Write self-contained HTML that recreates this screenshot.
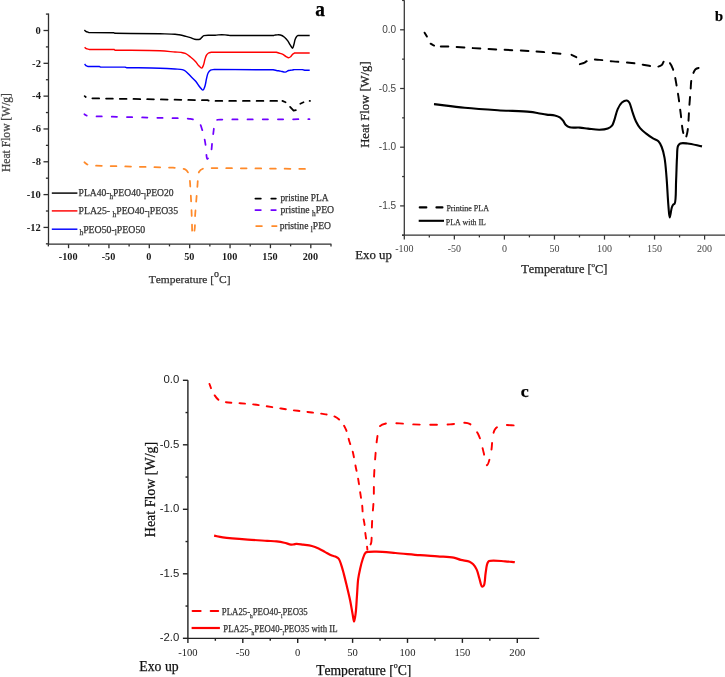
<!DOCTYPE html>
<html><head><meta charset="utf-8"><style>
html,body{margin:0;padding:0;background:#fff;width:725px;height:677px;overflow:hidden}
svg{display:block;will-change:transform}
text{font-kerning:none}
.c{fill:none;stroke-width:1.45;stroke-linejoin:round}
.cb{fill:none;stroke-width:2.1;stroke-linejoin:round}
.cc{fill:none;stroke-width:2.2;stroke-linejoin:round}
.cad{fill:none;stroke-width:1.75;stroke-linejoin:round}
.ccd{fill:none;stroke-width:1.9;stroke-linejoin:round}
.cbd{fill:none;stroke-width:1.95;stroke-linejoin:round}
</style></head><body>
<svg width="725" height="677" viewBox="0 0 725 677">
<path d="M48.5,13.5 V244.2 H331.4" fill="none" stroke="#2e2e2e" stroke-width="1.3"/>
<line x1="45.9" y1="14.09" x2="48.5" y2="14.09" stroke="#2e2e2e" stroke-width="1.3"/>
<line x1="43.5" y1="30.50" x2="48.5" y2="30.50" stroke="#2e2e2e" stroke-width="1.3"/>
<text transform="translate(40.90,33.80) scale(0.96,1)" text-anchor="end" font-family='"Liberation Serif",serif' font-size="11" font-weight="bold" fill="#1a1a1a">0</text>
<line x1="45.9" y1="46.91" x2="48.5" y2="46.91" stroke="#2e2e2e" stroke-width="1.3"/>
<line x1="43.5" y1="63.32" x2="48.5" y2="63.32" stroke="#2e2e2e" stroke-width="1.3"/>
<text transform="translate(40.90,66.62) scale(0.96,1)" text-anchor="end" font-family='"Liberation Serif",serif' font-size="11" font-weight="bold" fill="#1a1a1a">-2</text>
<line x1="45.9" y1="79.73" x2="48.5" y2="79.73" stroke="#2e2e2e" stroke-width="1.3"/>
<line x1="43.5" y1="96.14" x2="48.5" y2="96.14" stroke="#2e2e2e" stroke-width="1.3"/>
<text transform="translate(40.90,99.44) scale(0.96,1)" text-anchor="end" font-family='"Liberation Serif",serif' font-size="11" font-weight="bold" fill="#1a1a1a">-4</text>
<line x1="45.9" y1="112.55" x2="48.5" y2="112.55" stroke="#2e2e2e" stroke-width="1.3"/>
<line x1="43.5" y1="128.96" x2="48.5" y2="128.96" stroke="#2e2e2e" stroke-width="1.3"/>
<text transform="translate(40.90,132.26) scale(0.96,1)" text-anchor="end" font-family='"Liberation Serif",serif' font-size="11" font-weight="bold" fill="#1a1a1a">-6</text>
<line x1="45.9" y1="145.37" x2="48.5" y2="145.37" stroke="#2e2e2e" stroke-width="1.3"/>
<line x1="43.5" y1="161.78" x2="48.5" y2="161.78" stroke="#2e2e2e" stroke-width="1.3"/>
<text transform="translate(40.90,165.08) scale(0.96,1)" text-anchor="end" font-family='"Liberation Serif",serif' font-size="11" font-weight="bold" fill="#1a1a1a">-8</text>
<line x1="45.9" y1="178.19" x2="48.5" y2="178.19" stroke="#2e2e2e" stroke-width="1.3"/>
<line x1="43.5" y1="194.60" x2="48.5" y2="194.60" stroke="#2e2e2e" stroke-width="1.3"/>
<text transform="translate(40.90,197.90) scale(0.96,1)" text-anchor="end" font-family='"Liberation Serif",serif' font-size="11" font-weight="bold" fill="#1a1a1a">-10</text>
<line x1="45.9" y1="211.01" x2="48.5" y2="211.01" stroke="#2e2e2e" stroke-width="1.3"/>
<line x1="43.5" y1="227.42" x2="48.5" y2="227.42" stroke="#2e2e2e" stroke-width="1.3"/>
<text transform="translate(40.90,230.72) scale(0.96,1)" text-anchor="end" font-family='"Liberation Serif",serif' font-size="11" font-weight="bold" fill="#1a1a1a">-12</text>
<line x1="45.9" y1="243.83" x2="48.5" y2="243.83" stroke="#2e2e2e" stroke-width="1.3"/>
<line x1="48.36" y1="244.2" x2="48.36" y2="246.39999999999998" stroke="#2e2e2e" stroke-width="1.3"/>
<line x1="68.55" y1="244.2" x2="68.55" y2="248.2" stroke="#2e2e2e" stroke-width="1.3"/>
<text transform="translate(68.15,259.50) scale(0.93,1)" text-anchor="middle" font-family='"Liberation Serif",serif' font-size="11" font-weight="bold" fill="#1a1a1a">-100</text>
<line x1="88.74" y1="244.2" x2="88.74" y2="246.39999999999998" stroke="#2e2e2e" stroke-width="1.3"/>
<line x1="108.93" y1="244.2" x2="108.93" y2="248.2" stroke="#2e2e2e" stroke-width="1.3"/>
<text transform="translate(108.53,259.50) scale(0.93,1)" text-anchor="middle" font-family='"Liberation Serif",serif' font-size="11" font-weight="bold" fill="#1a1a1a">-50</text>
<line x1="129.11" y1="244.2" x2="129.11" y2="246.39999999999998" stroke="#2e2e2e" stroke-width="1.3"/>
<line x1="149.30" y1="244.2" x2="149.30" y2="248.2" stroke="#2e2e2e" stroke-width="1.3"/>
<text transform="translate(148.90,259.50) scale(0.93,1)" text-anchor="middle" font-family='"Liberation Serif",serif' font-size="11" font-weight="bold" fill="#1a1a1a">0</text>
<line x1="169.49" y1="244.2" x2="169.49" y2="246.39999999999998" stroke="#2e2e2e" stroke-width="1.3"/>
<line x1="189.68" y1="244.2" x2="189.68" y2="248.2" stroke="#2e2e2e" stroke-width="1.3"/>
<text transform="translate(189.28,259.50) scale(0.93,1)" text-anchor="middle" font-family='"Liberation Serif",serif' font-size="11" font-weight="bold" fill="#1a1a1a">50</text>
<line x1="209.86" y1="244.2" x2="209.86" y2="246.39999999999998" stroke="#2e2e2e" stroke-width="1.3"/>
<line x1="230.05" y1="244.2" x2="230.05" y2="248.2" stroke="#2e2e2e" stroke-width="1.3"/>
<text transform="translate(229.65,259.50) scale(0.93,1)" text-anchor="middle" font-family='"Liberation Serif",serif' font-size="11" font-weight="bold" fill="#1a1a1a">100</text>
<line x1="250.24" y1="244.2" x2="250.24" y2="246.39999999999998" stroke="#2e2e2e" stroke-width="1.3"/>
<line x1="270.43" y1="244.2" x2="270.43" y2="248.2" stroke="#2e2e2e" stroke-width="1.3"/>
<text transform="translate(270.03,259.50) scale(0.93,1)" text-anchor="middle" font-family='"Liberation Serif",serif' font-size="11" font-weight="bold" fill="#1a1a1a">150</text>
<line x1="290.61" y1="244.2" x2="290.61" y2="246.39999999999998" stroke="#2e2e2e" stroke-width="1.3"/>
<line x1="310.80" y1="244.2" x2="310.80" y2="248.2" stroke="#2e2e2e" stroke-width="1.3"/>
<text transform="translate(310.40,259.50) scale(0.93,1)" text-anchor="middle" font-family='"Liberation Serif",serif' font-size="11" font-weight="bold" fill="#1a1a1a">200</text>
<line x1="330.99" y1="244.2" x2="330.99" y2="246.39999999999998" stroke="#2e2e2e" stroke-width="1.3"/>
<text x="148.72" y="282.90" font-family='"Liberation Serif",serif' font-size="11" fill="#333" textLength="81.85" lengthAdjust="spacingAndGlyphs" stroke="#333" stroke-width="0.25">Temperature [<tspan dy="-5.8" font-size="9.5">o</tspan><tspan dy="5.8">C]</tspan></text>
<text transform="translate(9.60,171.99) rotate(-90)" font-family='"Liberation Serif",serif' font-size="11.5" fill="#444" textLength="78.97" lengthAdjust="spacingAndGlyphs" stroke="#444" stroke-width="0.25">Heat Flow [W/g]</text>
<text x="315.16" y="16.10" font-family='"Liberation Serif",serif' font-size="21.5" font-weight="bold" fill="#000" textLength="9.68" lengthAdjust="spacingAndGlyphs" stroke="#000" stroke-width="0.25">a</text>
<path d="M84.40,30.00 C84.87,30.43 85.20,30.91 85.80,31.30 C86.60,31.81 87.87,32.17 88.90,32.60 L114.00,32.80 L115.00,33.30 C130.00,33.47 149.02,33.59 160.00,33.80 C166.34,33.92 171.57,33.90 175.00,34.20 C176.80,34.36 177.60,34.52 179.10,34.80 C180.96,35.15 183.33,35.71 185.30,36.20 C187.11,36.65 188.88,37.07 190.50,37.60 C191.96,38.08 193.12,38.92 194.60,39.20 C196.20,39.50 198.52,39.69 199.80,39.20 C200.75,38.84 201.20,37.91 201.90,37.30 C202.57,36.71 202.87,35.99 203.90,35.60 C205.94,34.82 211.63,35.47 214.30,35.30 C215.98,35.19 216.87,34.97 218.40,34.90 C220.34,34.81 223.01,34.79 225.00,34.90 C226.65,34.99 228.00,35.23 229.50,35.40 L273.90,35.40 L275.60,34.90 C277.20,34.93 278.91,34.61 280.40,35.00 C281.87,35.39 283.28,36.24 284.50,37.20 C285.76,38.19 286.84,39.59 287.80,40.90 C288.73,42.17 289.39,43.63 290.20,44.90 C290.96,46.09 291.88,48.38 292.50,48.30 C293.11,48.23 293.48,45.86 293.90,44.50 C294.36,42.98 294.57,41.03 295.10,39.60 C295.54,38.39 296.05,37.11 296.70,36.40 C297.17,35.88 297.77,35.73 298.30,35.40 L309.70,35.40" class="c" stroke="#000"/>
<path d="M84.60,47.20 C85.17,47.67 85.61,48.24 86.30,48.60 C87.10,49.02 88.23,49.13 89.20,49.40 L114.00,49.40 L115.00,50.20 C130.00,50.40 149.03,50.29 160.00,50.80 C166.35,51.10 171.09,51.72 175.00,52.00 C177.52,52.18 179.36,52.12 181.20,52.40 C182.72,52.63 183.91,52.78 185.30,53.40 C187.00,54.16 188.81,55.66 190.50,57.00 C192.28,58.41 194.25,60.12 195.70,61.70 C196.94,63.06 197.71,64.68 198.80,65.80 C199.73,66.75 200.92,68.24 201.70,68.10 C202.43,67.97 202.91,66.46 203.40,65.30 C204.08,63.68 204.42,60.91 205.00,59.10 C205.47,57.63 205.83,56.26 206.50,55.20 C207.07,54.29 207.79,53.48 208.60,53.00 C209.37,52.55 210.33,52.53 211.20,52.30 L276.40,52.20 C277.20,52.47 277.89,52.70 278.80,53.00 C279.98,53.38 281.66,53.68 282.90,54.30 C284.08,54.89 285.07,56.01 286.10,56.60 C286.96,57.09 287.82,57.72 288.60,57.70 C289.31,57.68 289.98,57.19 290.60,56.70 C291.33,56.12 291.87,54.95 292.60,54.30 C293.25,53.71 294.00,53.37 294.70,52.90 L309.70,53.00" class="c" stroke="#ff0000"/>
<path d="M84.60,64.10 C85.07,64.60 85.46,65.22 86.00,65.60 C86.53,65.98 87.20,66.13 87.80,66.40 L99.20,66.40 L100.50,67.10 L125.00,67.10 L126.50,67.70 C137.67,67.87 151.05,67.89 160.00,68.20 C165.99,68.40 170.91,68.72 175.00,69.00 C177.84,69.19 180.33,69.12 182.20,69.60 C183.48,69.93 184.21,70.25 185.30,71.00 C186.90,72.10 188.77,74.39 190.50,76.10 C192.24,77.82 194.14,79.46 195.70,81.30 C197.23,83.10 198.47,85.43 199.80,87.00 C200.85,88.24 202.04,90.24 202.90,90.10 C203.78,89.96 204.44,87.61 205.00,86.00 C205.72,83.96 205.95,80.97 206.50,78.70 C206.99,76.67 207.28,74.49 208.10,73.00 C208.75,71.81 209.57,70.80 210.60,70.20 C211.63,69.60 213.07,69.67 214.30,69.40 L273.10,69.80 C274.20,70.03 275.24,70.29 276.40,70.50 C277.67,70.73 279.00,70.85 280.40,71.10 C281.95,71.37 283.85,72.28 285.30,72.10 C286.54,71.94 287.48,70.83 288.60,70.50 C289.65,70.19 290.80,70.26 291.80,70.10 C292.69,69.96 293.47,69.77 294.30,69.60 L302.40,69.60 L304.80,70.30 L309.70,70.30" class="c" stroke="#0000ff"/>
<path d="M84.70,96.10 C85.30,96.57 85.85,97.15 86.50,97.50 C87.12,97.84 87.83,97.97 88.50,98.20 L156.60,99.40 L207.50,100.20 L209.50,100.90 L277.60,100.90" class="cad" stroke="#000" stroke-linecap="round" stroke-dasharray="6.75 6.95" stroke-dashoffset="5.43"/>
<path d="M282.40,100.85 L285.60,102.25" class="cad" stroke="#000" stroke-linecap="round"/>
<path d="M290.09,106.85 L293.60,110.70 L295.85,110.19" class="cad" stroke="#000" stroke-linecap="round"/>
<path d="M300.30,103.74 L303.50,102.26" class="cad" stroke="#000" stroke-linecap="round"/>
<path d="M309.6,100.9 L310.0,100.9" class="cad" stroke="#000" stroke-linecap="round"/>
<path d="M84.40,114.20 C85.10,114.63 85.75,115.17 86.50,115.50 C87.25,115.83 88.10,115.97 88.90,116.20 L185.00,118.40 C186.77,118.57 188.55,118.57 190.30,118.90 C192.08,119.23 194.01,119.65 195.60,120.40 C197.09,121.11 198.55,121.88 199.60,123.20 C200.83,124.76 201.40,127.43 202.10,129.50 C202.75,131.43 203.19,133.06 203.70,135.20 C204.34,137.91 205.07,141.38 205.50,144.50 C205.93,147.61 205.93,151.25 206.30,153.90 C206.58,155.87 206.67,158.85 207.30,159.00 C207.81,159.12 208.80,157.39 209.40,156.30 C210.15,154.95 210.75,153.33 211.20,151.40 C211.80,148.82 211.87,144.87 212.20,142.10 C212.47,139.85 212.72,138.23 213.00,136.00 C213.34,133.31 213.68,129.70 214.10,127.10 C214.43,125.04 214.43,122.85 215.20,121.60 C215.76,120.70 216.52,120.17 217.50,119.80 C218.77,119.32 220.77,119.60 222.40,119.50 L309.50,119.20" class="cad" stroke="#7000ff" stroke-linecap="round" stroke-dasharray="5.25 9.95" stroke-dashoffset="2.58"/>
<path d="M84.40,162.30 C85.23,162.93 86.04,163.66 86.90,164.20 C87.71,164.71 88.57,165.07 89.40,165.50 L173.00,167.60 C175.23,167.87 177.56,168.05 179.70,168.40 C181.68,168.73 183.89,168.67 185.40,169.60 C186.81,170.47 187.87,172.00 188.60,173.60 C189.43,175.42 189.50,177.79 189.80,180.10 C190.13,182.69 190.19,185.16 190.40,188.40 C190.69,192.98 191.05,199.57 191.30,205.00 C191.54,210.23 191.66,215.35 191.90,220.40 C192.13,225.28 191.94,234.67 192.70,234.80 C193.14,234.87 194.08,232.33 194.50,230.40 C195.23,227.06 194.81,221.07 195.10,216.20 C195.40,211.02 195.90,205.47 196.30,200.20 C196.70,195.04 197.17,189.13 197.50,184.90 C197.73,181.90 197.76,179.58 198.10,177.20 C198.40,175.12 198.29,172.89 199.30,171.40 C200.29,169.95 202.18,168.89 204.00,168.30 C206.05,167.64 208.73,168.10 211.10,168.00 L305.40,168.90" class="cad" stroke="#ff8a2a" stroke-linecap="round" stroke-dasharray="5.75 8.85" stroke-dashoffset="1.98"/>
<line x1="51.8" y1="193.1" x2="77.4" y2="193.1" class="c" stroke="#000"/>
<line x1="51.8" y1="210.9" x2="77.4" y2="210.9" class="c" stroke="#ff0000"/>
<line x1="51.8" y1="229.2" x2="77.4" y2="229.2" class="c" stroke="#0000ff"/>
<text x="78.55" y="196.40" font-family='"Liberation Serif",serif' font-size="10" fill="#333" textLength="95.10" lengthAdjust="spacingAndGlyphs" stroke="#333" stroke-width="0.25">PLA40-<tspan dy="2.5" font-size="7.5">h</tspan><tspan dy="-2.5">PEO40-<tspan dy="2.5" font-size="7.5">l</tspan><tspan dy="-2.5">PEO20</tspan></tspan></text>
<text x="78.55" y="214.20" font-family='"Liberation Serif",serif' font-size="10" fill="#333" textLength="99.50" lengthAdjust="spacingAndGlyphs" stroke="#333" stroke-width="0.25">PLA25- <tspan dy="2.5" font-size="7.5">h</tspan><tspan dy="-2.5">PEO40-<tspan dy="2.5" font-size="7.5">l</tspan><tspan dy="-2.5">PEO35</tspan></tspan></text>
<text x="79.45" y="232.50" font-family='"Liberation Serif",serif' font-size="10" fill="#333" textLength="65.80" lengthAdjust="spacingAndGlyphs" stroke="#333" stroke-width="0.25"><tspan dy="2.5" font-size="7.5">h</tspan><tspan dy="-2.5">PEO50-<tspan dy="2.5" font-size="7.5">l</tspan><tspan dy="-2.5">PEO50</tspan></tspan></text>
<line x1="255.38" y1="198.5" x2="260.82" y2="198.5" class="cad" stroke="#000" stroke-linecap="round"/>
<line x1="271.27" y1="198.5" x2="275.82" y2="198.5" class="cad" stroke="#000" stroke-linecap="round"/>
<line x1="255.38" y1="210.1" x2="260.82" y2="210.1" class="cad" stroke="#7000ff" stroke-linecap="round"/>
<line x1="271.27" y1="210.1" x2="275.82" y2="210.1" class="cad" stroke="#7000ff" stroke-linecap="round"/>
<line x1="256.18" y1="226" x2="261.93" y2="226" class="cad" stroke="#ff8a2a" stroke-linecap="round"/>
<line x1="272.07" y1="226" x2="276.62" y2="226" class="cad" stroke="#ff8a2a" stroke-linecap="round"/>
<text x="280.45" y="201.30" font-family='"Liberation Serif",serif' font-size="10" fill="#333" textLength="48.10" lengthAdjust="spacingAndGlyphs" stroke="#333" stroke-width="0.25">pristine PLA</text>
<text x="280.45" y="213.00" font-family='"Liberation Serif",serif' font-size="10" fill="#333" textLength="53.70" lengthAdjust="spacingAndGlyphs" stroke="#333" stroke-width="0.25">pristine <tspan dy="2.5" font-size="7.5">h</tspan><tspan dy="-2.5">PEO</tspan></text>
<text x="279.65" y="229.00" font-family='"Liberation Serif",serif' font-size="10" fill="#333" textLength="51.30" lengthAdjust="spacingAndGlyphs" stroke="#333" stroke-width="0.25">pristine <tspan dy="2.5" font-size="7.5">l</tspan><tspan dy="-2.5">PEO</tspan></text>
<path d="M404.3,0.3 V235.2 M402.0,235.2 H725" fill="none" stroke="#333" stroke-width="1.25"/>
<line x1="402.1" y1="235.25" x2="404.3" y2="235.25" stroke="#333" stroke-width="1.25"/>
<line x1="400.1" y1="205.90" x2="404.3" y2="205.90" stroke="#333" stroke-width="1.25"/>
<text transform="translate(396.20,209.00) scale(0.95,1)" text-anchor="end" font-family='"Liberation Sans",sans-serif' font-size="10.6" fill="#444">-1.5</text>
<line x1="402.1" y1="176.55" x2="404.3" y2="176.55" stroke="#333" stroke-width="1.25"/>
<line x1="400.1" y1="147.20" x2="404.3" y2="147.20" stroke="#333" stroke-width="1.25"/>
<text transform="translate(396.20,150.30) scale(0.95,1)" text-anchor="end" font-family='"Liberation Sans",sans-serif' font-size="10.6" fill="#444">-1.0</text>
<line x1="402.1" y1="117.85" x2="404.3" y2="117.85" stroke="#333" stroke-width="1.25"/>
<line x1="400.1" y1="88.50" x2="404.3" y2="88.50" stroke="#333" stroke-width="1.25"/>
<text transform="translate(396.20,91.60) scale(0.95,1)" text-anchor="end" font-family='"Liberation Sans",sans-serif' font-size="10.6" fill="#444">-0.5</text>
<line x1="402.1" y1="59.15" x2="404.3" y2="59.15" stroke="#333" stroke-width="1.25"/>
<line x1="400.1" y1="29.80" x2="404.3" y2="29.80" stroke="#333" stroke-width="1.25"/>
<text transform="translate(396.20,32.90) scale(0.95,1)" text-anchor="end" font-family='"Liberation Sans",sans-serif' font-size="10.6" fill="#444">0.0</text>
<line x1="402.1" y1="0.45" x2="404.3" y2="0.45" stroke="#333" stroke-width="1.25"/>
<line x1="404.30" y1="235.2" x2="404.30" y2="239.6" stroke="#333" stroke-width="1.25"/>
<text transform="translate(404.30,251.50) scale(1.0,1)" text-anchor="middle" font-family='"Liberation Serif",serif' font-size="10" fill="#444">-100</text>
<line x1="429.32" y1="235.2" x2="429.32" y2="237.39999999999998" stroke="#333" stroke-width="1.25"/>
<line x1="454.35" y1="235.2" x2="454.35" y2="239.6" stroke="#333" stroke-width="1.25"/>
<text transform="translate(454.35,251.50) scale(1.0,1)" text-anchor="middle" font-family='"Liberation Serif",serif' font-size="10" fill="#444">-50</text>
<line x1="479.38" y1="235.2" x2="479.38" y2="237.39999999999998" stroke="#333" stroke-width="1.25"/>
<line x1="504.40" y1="235.2" x2="504.40" y2="239.6" stroke="#333" stroke-width="1.25"/>
<text transform="translate(504.40,251.50) scale(1.0,1)" text-anchor="middle" font-family='"Liberation Serif",serif' font-size="10" fill="#444">0</text>
<line x1="529.42" y1="235.2" x2="529.42" y2="237.39999999999998" stroke="#333" stroke-width="1.25"/>
<line x1="554.45" y1="235.2" x2="554.45" y2="239.6" stroke="#333" stroke-width="1.25"/>
<text transform="translate(554.45,251.50) scale(1.0,1)" text-anchor="middle" font-family='"Liberation Serif",serif' font-size="10" fill="#444">50</text>
<line x1="579.47" y1="235.2" x2="579.47" y2="237.39999999999998" stroke="#333" stroke-width="1.25"/>
<line x1="604.50" y1="235.2" x2="604.50" y2="239.6" stroke="#333" stroke-width="1.25"/>
<text transform="translate(604.50,251.50) scale(1.0,1)" text-anchor="middle" font-family='"Liberation Serif",serif' font-size="10" fill="#444">100</text>
<line x1="629.52" y1="235.2" x2="629.52" y2="237.39999999999998" stroke="#333" stroke-width="1.25"/>
<line x1="654.55" y1="235.2" x2="654.55" y2="239.6" stroke="#333" stroke-width="1.25"/>
<text transform="translate(654.55,251.50) scale(1.0,1)" text-anchor="middle" font-family='"Liberation Serif",serif' font-size="10" fill="#444">150</text>
<line x1="679.57" y1="235.2" x2="679.57" y2="237.39999999999998" stroke="#333" stroke-width="1.25"/>
<line x1="704.60" y1="235.2" x2="704.60" y2="239.6" stroke="#333" stroke-width="1.25"/>
<text transform="translate(704.60,251.50) scale(1.0,1)" text-anchor="middle" font-family='"Liberation Serif",serif' font-size="10" fill="#444">200</text>
<text x="521.31" y="273.20" font-family='"Liberation Serif",serif' font-size="11.6" fill="#222" textLength="86.08" lengthAdjust="spacingAndGlyphs" stroke="#222" stroke-width="0.25">Temperature [<tspan dy="-5.8" font-size="6.5">o</tspan><tspan dy="5.8">C]</tspan></text>
<text transform="translate(369.40,147.80) rotate(-90)" font-family='"Liberation Serif",serif' font-size="12.0" fill="#222" textLength="86.40" lengthAdjust="spacingAndGlyphs" stroke="#222" stroke-width="0.25">Heat Flow [W/g]</text>
<text x="355.18" y="259.00" font-family='"Liberation Serif",serif' font-size="12.8" fill="#222" textLength="36.84" lengthAdjust="spacingAndGlyphs" stroke="#222" stroke-width="0.25">Exo up</text>
<text x="715.12" y="20.50" font-family='"Liberation Serif",serif' font-size="15" font-weight="bold" fill="#000" textLength="8.05" lengthAdjust="spacingAndGlyphs" stroke="#000" stroke-width="0.25">b</text>
<path d="M439.80,46.40 C442.57,46.43 444.59,46.37 448.10,46.50 C454.18,46.73 464.71,47.60 473.00,48.10 C481.27,48.60 488.74,49.02 497.80,49.50 C508.77,50.08 522.77,50.50 534.20,51.30 C544.40,52.01 557.69,53.53 563.10,53.90 C565.21,54.04 566.03,54.03 567.50,54.10" class="cbd" stroke="#000" stroke-linecap="round" stroke-dasharray="7.6 8.4" stroke-dashoffset="15.03"/>
<path d="M578.90,64.40 L583.80,63.00 C585.73,61.97 587.33,60.47 589.60,59.90 C592.39,59.20 595.96,59.70 599.50,59.90 C603.61,60.13 608.12,60.95 612.80,61.40 C618.00,61.90 624.55,62.19 629.30,62.70 C632.94,63.09 635.65,63.50 638.90,64.00 C642.28,64.52 646.15,65.26 649.20,65.80 C651.64,66.24 653.67,67.15 655.80,67.00 C657.87,66.85 660.26,66.22 661.80,65.00 C663.31,63.80 663.63,60.10 665.00,59.80 C666.34,59.51 668.61,61.65 669.90,63.10 C671.23,64.60 671.99,66.61 672.80,68.70 C673.74,71.13 674.38,74.16 675.00,76.90 C675.61,79.60 675.97,81.96 676.50,85.00 C677.18,88.88 678.01,93.65 678.70,98.30 C679.45,103.40 680.11,108.98 680.80,114.40 C681.51,119.94 681.94,126.77 682.90,131.20 C683.55,134.20 684.44,138.58 685.20,138.60 C685.87,138.61 686.69,135.21 687.20,133.00 C687.89,129.98 688.08,125.89 688.40,122.00 C688.76,117.62 688.87,112.96 689.20,108.00 C689.58,102.37 690.20,95.12 690.60,90.00 C690.90,86.18 690.88,82.95 691.40,80.00 C691.83,77.58 692.43,75.39 693.20,73.50 C693.85,71.91 694.47,70.22 695.50,69.30 C696.38,68.52 697.44,68.21 698.70,68.00 C700.34,67.72 702.63,68.20 704.60,68.30" class="cbd" stroke="#000" stroke-linecap="round" stroke-dasharray="7.6 8.4" stroke-dashoffset="15.03"/>
<path d="M424.6,32.7 L426.9,36.6" class="cbd" stroke="#000" stroke-linecap="round"/>
<path d="M430.6,43.7 L433.2,45.2 L434.1,45.6" class="cbd" stroke="#000" stroke-linecap="round"/>
<path d="M571.5,54.8 L576.3,57.2" class="cbd" stroke="#000" stroke-linecap="round"/>
<path d="M434.00,104.10 C444.23,105.30 454.26,106.69 464.70,107.70 C475.52,108.74 486.84,109.50 497.80,110.20 C508.60,110.89 522.78,111.15 530.00,111.90 C533.68,112.28 535.53,112.75 538.30,113.20 C541.07,113.65 543.84,114.23 546.60,114.60 C549.34,114.96 552.44,114.82 554.80,115.40 C556.71,115.87 558.38,116.47 559.80,117.40 C561.12,118.27 562.14,119.48 563.10,120.70 C564.08,121.94 564.50,123.70 565.60,124.80 C566.70,125.90 567.95,126.78 569.70,127.30 C572.23,128.05 576.53,127.36 579.70,127.60 C582.60,127.82 585.01,128.26 588.00,128.60 C591.52,129.00 595.98,129.89 599.50,129.80 C602.50,129.72 605.57,129.37 607.80,128.50 C609.53,127.83 610.92,127.01 612.00,125.70 C613.20,124.24 613.59,122.15 614.40,119.90 C615.48,116.88 616.28,112.18 617.70,109.10 C618.88,106.54 620.17,103.94 621.90,102.50 C623.34,101.31 625.58,100.29 626.90,100.50 C627.90,100.66 628.57,101.43 629.30,102.50 C630.63,104.45 631.46,109.18 632.60,112.40 C633.70,115.51 634.66,118.77 636.00,121.50 C637.20,123.94 638.46,126.12 640.10,128.10 C641.75,130.09 643.81,131.72 645.90,133.40 C648.10,135.16 650.76,137.01 653.00,138.40 C654.89,139.56 656.96,139.91 658.40,141.30 C659.89,142.74 660.76,144.73 661.70,147.00 C662.91,149.92 663.75,153.51 664.50,157.60 C665.49,163.02 665.90,169.75 666.50,176.80 C667.23,185.42 667.74,198.09 668.40,205.60 C668.82,210.43 669.10,217.47 669.70,217.50 C670.26,217.53 671.02,209.80 671.80,207.50 C672.24,206.21 672.62,205.27 673.20,204.60 C673.64,204.10 674.28,204.33 674.70,203.60 C676.20,200.99 675.72,188.27 676.10,180.60 C676.48,172.94 676.60,163.96 677.00,157.60 C677.28,153.07 676.96,148.36 678.00,146.00 C678.56,144.73 679.17,144.00 680.30,143.50 C681.95,142.77 684.77,143.22 687.60,143.50 C691.61,143.90 697.20,145.43 702.00,146.40" class="cb" stroke="#000"/>
<line x1="419.75" y1="207.4" x2="426.35" y2="207.4" class="cb" stroke="#000" stroke-linecap="round"/>
<line x1="436.45" y1="207.4" x2="442.45" y2="207.4" class="cb" stroke="#000" stroke-linecap="round"/>
<path d="M418.7,220.8 H444" class="cb" stroke="#000"/>
<text x="446.38" y="211.40" font-family='"Liberation Serif",serif' font-size="9" fill="#333" textLength="42.65" lengthAdjust="spacingAndGlyphs" stroke="#333" stroke-width="0.25">Printine PLA</text>
<text x="445.77" y="224.80" font-family='"Liberation Serif",serif' font-size="9" fill="#333" textLength="40.15" lengthAdjust="spacingAndGlyphs" stroke="#333" stroke-width="0.25">PLA with IL</text>
<path d="M187.9,380.2 V638.4 H539.2" fill="none" stroke="#222" stroke-width="1.4"/>
<line x1="182.9" y1="380.30" x2="187.9" y2="380.30" stroke="#222" stroke-width="1.4"/>
<text transform="translate(179.30,383.40) scale(0.99,1)" text-anchor="end" font-family='"Liberation Sans",sans-serif' font-size="11.5" fill="#222">0.0</text>
<line x1="185.5" y1="412.55" x2="187.9" y2="412.55" stroke="#222" stroke-width="1.4"/>
<line x1="182.9" y1="444.80" x2="187.9" y2="444.80" stroke="#222" stroke-width="1.4"/>
<text transform="translate(179.30,447.90) scale(0.99,1)" text-anchor="end" font-family='"Liberation Sans",sans-serif' font-size="11.5" fill="#222">-0.5</text>
<line x1="185.5" y1="477.05" x2="187.9" y2="477.05" stroke="#222" stroke-width="1.4"/>
<line x1="182.9" y1="509.30" x2="187.9" y2="509.30" stroke="#222" stroke-width="1.4"/>
<text transform="translate(179.30,512.40) scale(0.99,1)" text-anchor="end" font-family='"Liberation Sans",sans-serif' font-size="11.5" fill="#222">-1.0</text>
<line x1="185.5" y1="541.55" x2="187.9" y2="541.55" stroke="#222" stroke-width="1.4"/>
<line x1="182.9" y1="573.80" x2="187.9" y2="573.80" stroke="#222" stroke-width="1.4"/>
<text transform="translate(179.30,576.90) scale(0.99,1)" text-anchor="end" font-family='"Liberation Sans",sans-serif' font-size="11.5" fill="#222">-1.5</text>
<line x1="185.5" y1="606.05" x2="187.9" y2="606.05" stroke="#222" stroke-width="1.4"/>
<line x1="182.9" y1="638.30" x2="187.9" y2="638.30" stroke="#222" stroke-width="1.4"/>
<text transform="translate(179.30,641.40) scale(0.99,1)" text-anchor="end" font-family='"Liberation Sans",sans-serif' font-size="11.5" fill="#222">-2.0</text>
<line x1="187.90" y1="638.4" x2="187.90" y2="642.9" stroke="#222" stroke-width="1.4"/>
<text transform="translate(187.90,656.10) scale(1.0,1)" text-anchor="middle" font-family='"Liberation Serif",serif' font-size="10.6" fill="#222">-100</text>
<line x1="215.35" y1="638.4" x2="215.35" y2="640.8" stroke="#222" stroke-width="1.4"/>
<line x1="242.80" y1="638.4" x2="242.80" y2="642.9" stroke="#222" stroke-width="1.4"/>
<text transform="translate(242.80,656.10) scale(1.0,1)" text-anchor="middle" font-family='"Liberation Serif",serif' font-size="10.6" fill="#222">-50</text>
<line x1="270.25" y1="638.4" x2="270.25" y2="640.8" stroke="#222" stroke-width="1.4"/>
<line x1="297.70" y1="638.4" x2="297.70" y2="642.9" stroke="#222" stroke-width="1.4"/>
<text transform="translate(297.70,656.10) scale(1.0,1)" text-anchor="middle" font-family='"Liberation Serif",serif' font-size="10.6" fill="#222">0</text>
<line x1="325.15" y1="638.4" x2="325.15" y2="640.8" stroke="#222" stroke-width="1.4"/>
<line x1="352.60" y1="638.4" x2="352.60" y2="642.9" stroke="#222" stroke-width="1.4"/>
<text transform="translate(352.60,656.10) scale(1.0,1)" text-anchor="middle" font-family='"Liberation Serif",serif' font-size="10.6" fill="#222">50</text>
<line x1="380.05" y1="638.4" x2="380.05" y2="640.8" stroke="#222" stroke-width="1.4"/>
<line x1="407.50" y1="638.4" x2="407.50" y2="642.9" stroke="#222" stroke-width="1.4"/>
<text transform="translate(407.50,656.10) scale(1.0,1)" text-anchor="middle" font-family='"Liberation Serif",serif' font-size="10.6" fill="#222">100</text>
<line x1="434.95" y1="638.4" x2="434.95" y2="640.8" stroke="#222" stroke-width="1.4"/>
<line x1="462.40" y1="638.4" x2="462.40" y2="642.9" stroke="#222" stroke-width="1.4"/>
<text transform="translate(462.40,656.10) scale(1.0,1)" text-anchor="middle" font-family='"Liberation Serif",serif' font-size="10.6" fill="#222">150</text>
<line x1="489.85" y1="638.4" x2="489.85" y2="640.8" stroke="#222" stroke-width="1.4"/>
<line x1="517.30" y1="638.4" x2="517.30" y2="642.9" stroke="#222" stroke-width="1.4"/>
<text transform="translate(517.30,656.10) scale(1.0,1)" text-anchor="middle" font-family='"Liberation Serif",serif' font-size="10.6" fill="#222">200</text>
<text x="316.14" y="674.60" font-family='"Liberation Serif",serif' font-size="14.5" fill="#111" textLength="95.22" lengthAdjust="spacingAndGlyphs" stroke="#111" stroke-width="0.25">Temperature [<tspan dy="-6.3" font-size="8.5">o</tspan><tspan dy="6.3">C]</tspan></text>
<text transform="translate(154.70,537.16) rotate(-90)" font-family='"Liberation Serif",serif' font-size="14.5" fill="#111" textLength="95.32" lengthAdjust="spacingAndGlyphs" stroke="#111" stroke-width="0.25">Heat Flow [W/g]</text>
<text x="139.34" y="671.20" font-family='"Liberation Serif",serif' font-size="14.2" fill="#111" textLength="39.31" lengthAdjust="spacingAndGlyphs" stroke="#111" stroke-width="0.25">Exo up</text>
<text x="520.88" y="397.40" font-family='"Liberation Serif",serif' font-size="17" font-weight="bold" fill="#000" textLength="7.95" lengthAdjust="spacingAndGlyphs" stroke="#000" stroke-width="0.25">c</text>
<path d="M209.50,384.00 C210.60,386.77 211.26,389.64 212.80,392.30 C214.48,395.20 216.89,399.00 219.40,400.60 C221.40,401.88 223.37,401.79 226.00,402.20 C229.78,402.79 235.14,402.79 240.00,403.20 C245.30,403.64 251.08,404.12 256.60,404.80 C262.12,405.48 267.59,406.47 273.10,407.30 C278.62,408.13 284.17,409.05 289.70,409.80 C295.20,410.55 300.69,411.12 306.20,411.80 C311.73,412.48 317.78,413.04 322.80,413.90 C327.03,414.62 331.21,414.93 334.40,416.40 C337.07,417.62 339.12,419.31 341.00,421.40 C343.04,423.67 344.66,426.60 346.00,429.70 C347.50,433.16 348.16,437.60 349.30,441.30 C350.36,444.74 351.60,447.45 352.60,451.20 C353.87,455.97 354.92,462.85 355.90,467.70 C356.67,471.54 357.30,474.03 358.00,478.00 C358.96,483.40 360.12,492.12 360.90,497.20 C361.41,500.54 361.87,502.61 362.20,505.50 C362.56,508.62 362.50,512.13 362.90,515.30 C363.28,518.32 364.10,521.16 364.50,524.10 C364.90,527.02 364.97,529.97 365.30,532.90 C365.63,535.84 366.14,538.84 366.50,541.70 C366.84,544.40 367.10,546.97 367.40,549.60" class="ccd" stroke="#ff0000" stroke-linecap="round" stroke-dasharray="5.6 8.1" stroke-dashoffset="1.1"/>
<path d="M367.40,549.60 C368.10,548.57 368.88,547.62 369.50,546.50 C370.15,545.32 370.81,544.31 371.20,542.70 C371.79,540.23 371.56,536.08 371.70,532.90 C371.83,529.89 371.87,527.07 372.00,524.10 C372.13,521.04 372.28,517.90 372.50,514.80 C372.72,511.70 373.08,508.60 373.30,505.50 C373.52,502.40 373.68,499.82 373.80,496.20 C373.96,491.14 373.76,484.45 374.00,478.00 C374.27,470.66 374.90,461.64 375.50,454.50 C376.00,448.51 376.41,443.00 377.20,438.00 C377.87,433.77 377.75,428.81 379.70,426.40 C381.22,424.51 383.65,423.97 386.30,423.40 C389.88,422.63 395.09,423.23 399.50,423.40 C403.93,423.57 407.25,424.19 412.80,424.40 C422.08,424.75 440.44,424.95 450.00,424.40 C456.03,424.05 461.10,422.48 464.70,422.70 C466.82,422.83 468.15,423.03 469.70,423.90 C471.50,424.91 473.12,426.95 474.60,428.80 C476.18,430.78 477.68,433.14 478.80,435.50 C479.91,437.84 480.53,440.24 481.30,442.90 C482.18,445.94 482.80,449.31 483.70,452.80 C484.71,456.73 485.96,465.23 487.10,465.30 C487.90,465.35 488.82,461.73 489.50,459.50 C490.36,456.65 490.97,453.08 491.50,449.50 C492.11,445.42 492.00,440.04 492.80,436.30 C493.42,433.41 493.80,430.62 495.30,428.80 C496.67,427.13 498.58,426.17 501.10,425.50 C504.98,424.47 511.63,425.50 516.90,425.50" class="ccd" stroke="#ff0000" stroke-linecap="round" stroke-dasharray="6.6 10.4" stroke-dashoffset="10.8"/>
<path d="M214.10,535.70 C217.00,536.23 219.13,536.80 222.80,537.30 C228.99,538.15 240.08,539.00 247.90,539.60 C254.75,540.13 261.91,540.47 267.20,540.80 C270.89,541.03 273.63,541.06 276.60,541.40 C279.30,541.71 281.84,542.14 284.30,542.70 C286.63,543.22 289.25,544.42 291.00,544.60 C292.09,544.71 292.80,544.53 293.70,544.40 C294.63,544.27 295.36,543.85 296.50,543.80 C298.23,543.72 300.75,544.27 303.10,544.60 C305.83,544.98 309.20,545.29 311.90,546.00 C314.32,546.64 316.41,547.50 318.60,548.50 C320.85,549.53 323.00,550.91 325.20,552.10 C327.40,553.28 329.78,554.78 331.80,555.60 C333.38,556.24 334.97,556.29 336.20,556.90 C337.23,557.41 338.05,557.83 338.80,558.80 C339.88,560.20 340.52,562.80 341.30,565.10 C342.21,567.77 342.95,570.70 343.80,573.90 C344.81,577.72 345.87,582.20 346.90,586.50 C347.97,590.99 349.15,595.69 350.10,600.30 C351.05,604.89 351.85,610.21 352.60,614.10 C353.15,616.95 353.60,621.50 354.10,621.50 C354.64,621.50 355.26,616.29 355.70,612.90 C356.32,608.09 356.58,601.06 357.00,595.30 C357.41,589.74 357.57,583.68 358.20,578.90 C358.69,575.14 359.36,572.17 360.10,568.90 C360.83,565.70 361.61,562.36 362.60,559.50 C363.48,556.99 364.22,553.73 365.60,552.60 C366.53,551.84 367.57,552.06 368.90,551.90 C370.90,551.66 373.40,551.63 376.50,551.70 C381.39,551.80 388.69,552.47 395.40,553.00 C403.06,553.61 412.47,554.61 420.00,555.20 C426.38,555.70 431.95,555.99 437.70,556.40 C443.17,556.79 449.47,556.77 453.70,557.60 C456.58,558.17 458.29,559.24 460.80,559.90 C463.56,560.63 467.39,560.73 469.60,561.70 C471.16,562.38 472.10,563.16 473.20,564.30 C474.51,565.67 475.72,567.52 476.70,569.60 C477.88,572.11 478.49,575.62 479.40,578.50 C480.26,581.24 480.89,586.04 482.00,586.50 C482.54,586.73 483.30,586.29 483.80,585.60 C485.04,583.88 484.96,577.08 485.60,573.20 C486.17,569.74 486.50,565.47 487.40,563.40 C487.88,562.29 488.03,561.63 489.10,561.10 C491.63,559.85 500.43,561.05 505.10,561.30 C508.74,561.49 511.57,561.90 514.80,562.20" class="cc" stroke="#ff0000"/>
<line x1="192.55" y1="611" x2="200.65" y2="611" class="ccd" stroke="#ff0000" stroke-linecap="round"/>
<line x1="210.65" y1="611" x2="218.25" y2="611" class="ccd" stroke="#ff0000" stroke-linecap="round"/>
<path d="M191.6,628 H219.9" class="cc" stroke="#ff0000"/>
<text x="221.85" y="615.00" font-family='"Liberation Serif",serif' font-size="9.8" fill="#333" textLength="85.89" lengthAdjust="spacingAndGlyphs" stroke="#333" stroke-width="0.25">PLA25-<tspan dy="2.5" font-size="6">h</tspan><tspan dy="-2.5">PEO40-<tspan dy="2.5" font-size="6">l</tspan><tspan dy="-2.5">PEO35</tspan></tspan></text>
<text x="223.35" y="632.00" font-family='"Liberation Serif",serif' font-size="9.8" fill="#333" textLength="114.19" lengthAdjust="spacingAndGlyphs" stroke="#333" stroke-width="0.25">PLA25-<tspan dy="2.5" font-size="6">h</tspan><tspan dy="-2.5">PEO40-<tspan dy="2.5" font-size="6">l</tspan><tspan dy="-2.5">PEO35 with IL</tspan></tspan></text>
</svg>
</body></html>
